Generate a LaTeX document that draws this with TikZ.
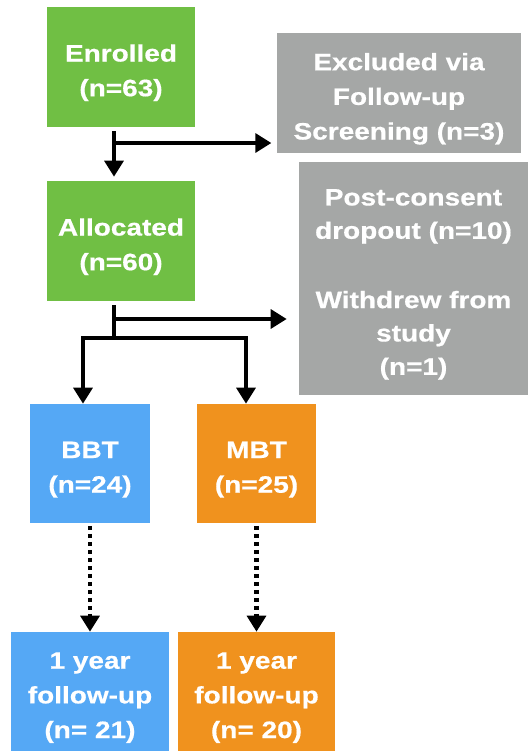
\documentclass[tikz,border=0pt]{standalone}
\usepackage{fontspec}
\setmainfont{Liberation Sans}[FakeStretch=1.18, BoldFeatures={FakeBold=0.6}]
\usetikzlibrary{arrows.meta}
\definecolor{cgreen}{HTML}{70BF44}
\definecolor{cgray}{HTML}{A5A7A6}
\definecolor{cblue}{HTML}{55A8F5}
\definecolor{corange}{HTML}{F0921E}
\newcommand\boxtext[1]{\raisebox{-3.7pt}[\height][\depth]{\begin{tabular}{@{}c@{}}#1\end{tabular}}}
\tikzset{
  box/.style={fill=#1, draw=none, text=white, align=center, inner sep=0pt,
    font=\fontsize{17.8}{26}\selectfont\bfseries},
  conn/.style={line width=3.2pt, -{Triangle[length=12pt,width=14pt]}},
  plain/.style={line width=3.2pt},
  dotconn/.style={line width=3.2pt, dash pattern=on 3pt off 3pt, -{Triangle[length=12pt,width=14pt]}}
}
\begin{document}
\begin{tikzpicture}[x=0.75pt,y=-0.75pt]
\useasboundingbox (0,0) rectangle (528,751);
\node[box=cgreen, minimum width=148*0.75pt, minimum height=120*0.75pt] (enr) at (121,67) {\boxtext{Enrolled\\(n=63)}};
\node[box=cgray, minimum width=244*0.75pt, minimum height=120*0.75pt] (exc) at (399,93) {\boxtext{Excluded via\\Follow-up\\Screening (n=3)}};
\node[box=cgreen, minimum width=148*0.75pt, minimum height=120*0.75pt] (alloc) at (121,241) {\boxtext{Allocated\\(n=60)}};
\node[box=cgray, minimum width=229*0.75pt, minimum height=233*0.75pt,
  font=\fontsize{17.8}{25}\selectfont\bfseries] (drop) at (413.5,278.5) {\boxtext{Post-consent\\dropout (n=10)\\[27pt]Withdrew from\\study\\(n=1)}};
\node[box=cblue, minimum width=120*0.75pt, minimum height=119*0.75pt] (bbt) at (90,463.5) {\boxtext{BBT\\(n=24)}};
\node[box=corange, minimum width=119*0.75pt, minimum height=119*0.75pt] (mbt) at (256.5,463.5) {\boxtext{MBT\\(n=25)}};
\node[box=cblue, minimum width=158*0.75pt, minimum height=119*0.75pt] (fb) at (90,691.5) {\boxtext{1 year\\follow-up\\(n= 21)}};
\node[box=corange, minimum width=157*0.75pt, minimum height=119*0.75pt] (fm) at (256.5,691.5) {\boxtext{1 year\\follow-up\\(n= 20)}};
% junctions
\coordinate (j1) at (114,143);
\coordinate (j2) at (114,319);
\coordinate (j3) at (114,338);
\coordinate (jl) at (83,338);
\coordinate (jr) at (246,338);
\draw[conn] ([yshift=-3pt]enr.south -| j1) -- ([yshift=3pt]alloc.north -| j1);
\draw[conn] (j1) -- ([xshift=-4pt]exc.west |- j1);
\draw[plain] ([yshift=-3pt]alloc.south -| j2) -- (j3);
\draw[conn] (j2) -- ([xshift=-9pt]drop.west |- j2);
\draw[plain, line cap=rect] (jl) -- (jr);
\draw[conn] (jl) -- (bbt.north -| jl);
\draw[conn] (jr) -- (mbt.north -| jr);
\draw[dotconn] ([yshift=-2pt]bbt.south -| fb.north) -- (fb.north);
\draw[dotconn] ([yshift=-2pt]mbt.south -| fm.north) -- (fm.north);
\end{tikzpicture}
\end{document}
